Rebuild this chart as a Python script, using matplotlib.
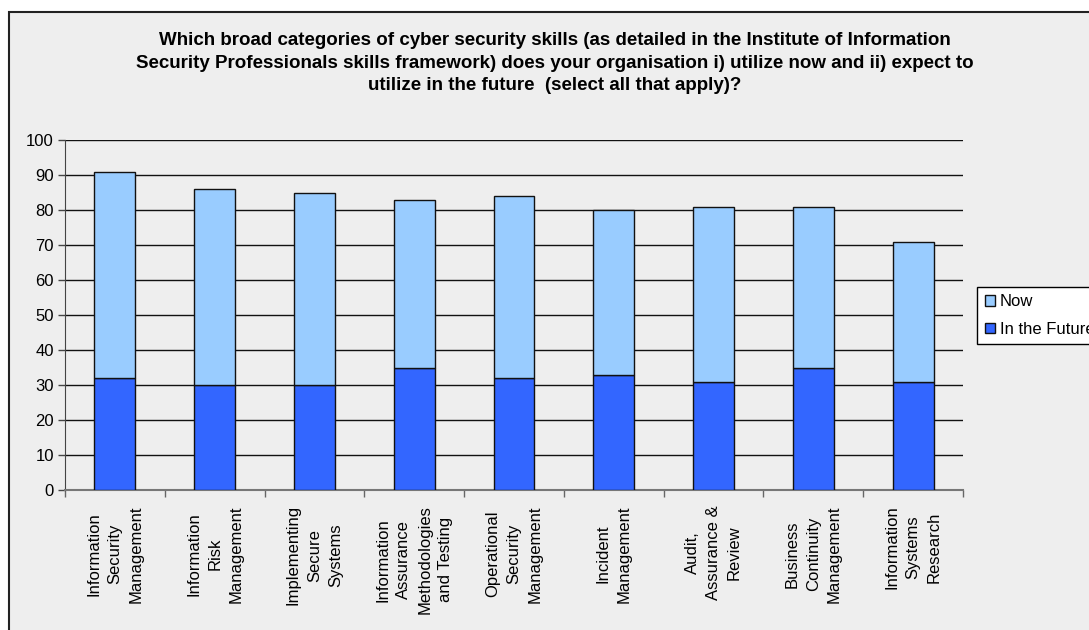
import matplotlib
matplotlib.use("Agg")
import matplotlib.pyplot as plt
from matplotlib.patches import Rectangle
import numpy as np

categories = [
    "Information\nSecurity\nManagement",
    "Information\nRisk\nManagement",
    "Implementing\nSecure\nSystems",
    "Information\nAssurance\nMethodologies\nand Testing",
    "Operational\nSecurity\nManagement",
    "Incident\nManagement",
    "Audit,\nAssurance &\nReview",
    "Business\nContinuity\nManagement",
    "Information\nSystems\nResearch",
]
future = [32, 30, 30, 35, 32, 33, 31, 35, 31]
now = [59, 56, 55, 48, 52, 47, 50, 46, 40]
yticks = list(range(0, 101, 10))
title = ("Which broad categories of cyber security skills (as detailed in the Institute of Information\n"
         "Security Professionals skills framework) does your organisation i) utilize now and ii) expect to\n"
         "utilize in the future  (select all that apply)?")

plt.rcParams['font.family'] = ['Liberation Sans', 'DejaVu Sans']

W, H = 1089, 630
fig = plt.figure(figsize=(W / 100, H / 100), dpi=100)
fig.patch.set_facecolor('white')

# chart area background + frame
fig.patches.append(Rectangle((9 / W, -0.2), 1.2, 1.2 - 12 / H, transform=fig.transFigure,
                             facecolor='#EEEEEE', edgecolor='#222222', linewidth=1.5, zorder=-10))

ax = fig.add_axes([65 / W, 1 - 490 / H, (963 - 65) / W, (490 - 140) / H])
ax.set_facecolor('none')

x = np.arange(len(categories))
bw = 0.41
ax.bar(x, future, bw, color='#3366FF', edgecolor='#111111', linewidth=1.0,
       label='In the Future', zorder=3)
ax.bar(x, now, bw, bottom=future, color='#99CCFF', edgecolor='#111111', linewidth=1.0,
       label='Now', zorder=3)

ax.set_xlim(-0.5, len(categories) - 0.5)
ax.set_ylim(0, 100)
ax.set_yticks(yticks)
ax.set_yticklabels([str(v) for v in yticks], fontsize=12)
ax.yaxis.grid(True, color='#111111', linewidth=1.0, zorder=1)
ax.set_axisbelow(True)

ax.set_xticks(x)
ax.set_xticklabels(categories, rotation=90, fontsize=12, ha='center', va='top',
                   multialignment='center', linespacing=1.5)
ax.tick_params(axis='x', length=0, pad=11)
ax.set_xticks(np.arange(-0.5, len(categories), 1.0), minor=True)
ax.tick_params(axis='x', which='minor', length=5, width=1, color='#666666', direction='out')
ax.tick_params(axis='y', length=5, width=1, color='#444444', direction='out', pad=3)

for s in ['top', 'right']:
    ax.spines[s].set_visible(False)
ax.spines['left'].set_color('#444444')
ax.spines['bottom'].set_color('#777777')
ax.spines['bottom'].set_linewidth(1.5)

handles, labels = ax.get_legend_handles_labels()
leg = fig.legend(handles[::-1], labels[::-1], loc='upper left',
                 bbox_to_anchor=(977 / W, 1 - 287 / H), fontsize=12,
                 frameon=True, fancybox=False, edgecolor='#000000', facecolor='white',
                 framealpha=1, handlelength=0.6, handleheight=0.6, handletextpad=0.3,
                 borderpad=0.45, labelspacing=0.75, borderaxespad=0)
leg.get_frame().set_linewidth(1.0)

fig.text(555 / W, 1 - 63 / H, title, ha='center', va='center', fontsize=13.5,
         fontweight='bold', linespacing=1.42,
         family=['Liberation Sans Narrow', 'Liberation Sans', 'DejaVu Sans'])

fig.savefig('out.png', dpi=100)
